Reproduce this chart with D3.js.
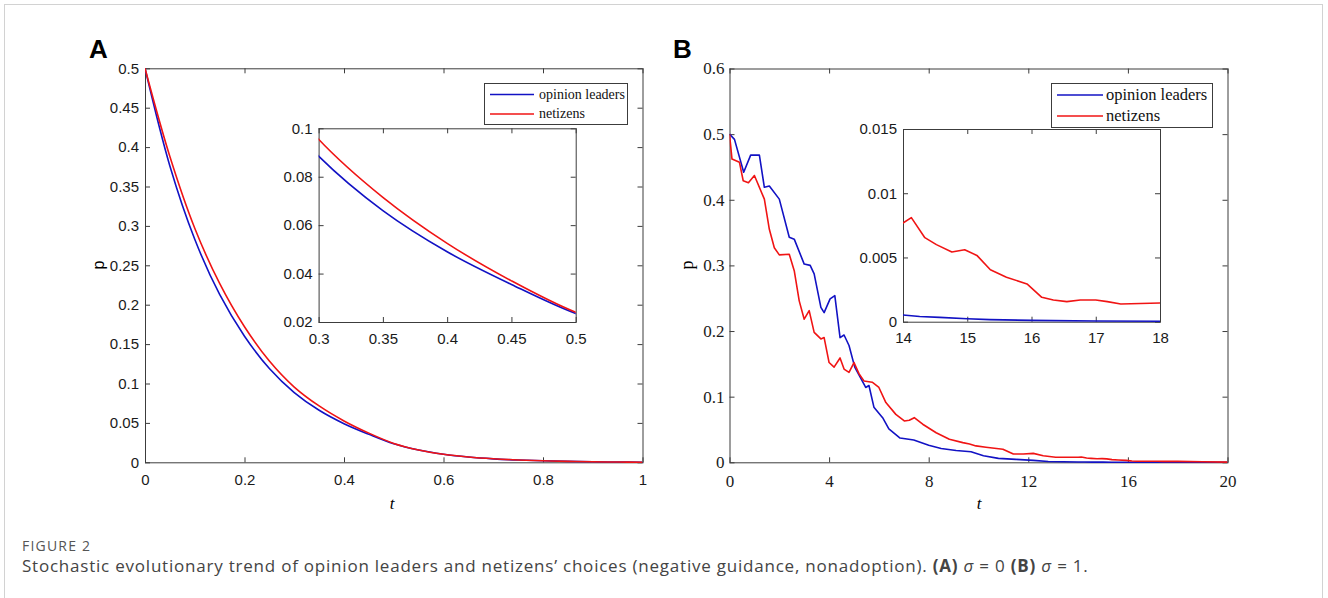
<!DOCTYPE html>
<html>
<head>
<meta charset="utf-8">
<script src="https://cdn.jsdelivr.net/npm/d3@7"></script>
<style>
  html, body { margin: 0; padding: 0; background: #ffffff; }
  svg { display: block; }
</style>
</head>
<body>
<svg id="chart"></svg>
<script>
//--Data
//Panel A (sigma = 0)
const tA = [0, 0.05, 0.1, 0.15, 0.2, 0.25, 0.3, 0.35, 0.4, 0.45, 0.5,
            0.55, 0.6, 0.65, 0.7, 0.75, 0.8, 0.85, 0.9, 0.95, 1];
const leadersA = [0.5, 0.376, 0.283, 0.213, 0.16, 0.119, 0.0885, 0.066, 0.049, 0.0355, 0.0235,
                  0.0155, 0.0102, 0.0067, 0.0044, 0.0029, 0.0019, 0.0012, 0.0007, 0.0003, 0];
const netizensA = [0.5, 0.388, 0.297, 0.227, 0.172, 0.1285, 0.0955, 0.0715, 0.0525, 0.037, 0.024,
                   0.0157, 0.0103, 0.0068, 0.0045, 0.003, 0.002, 0.0012, 0.0007, 0.0003, 0];

//Panel B (sigma = 1)
const tLeadersB = [0, 0.2, 0.57, 0.85, 1.2, 1.4, 1.6, 2.0, 2.4, 2.6, 3.0, 3.24, 3.4, 3.67, 3.8,
                   4.04, 4.23, 4.44, 4.6, 4.8, 5.03, 5.4, 5.47, 5.6, 5.8, 6.15, 6.4, 6.85, 7.4,
                   8.0, 8.5, 9.1, 9.7, 10.2, 10.8, 11.5, 12.2, 12.8, 14, 14.26, 14.57, 15.0,
                   15.35, 16, 17, 18, 20];
const pLeadersB = [0.5, 0.492, 0.442, 0.468, 0.468, 0.419, 0.421, 0.401, 0.343, 0.34, 0.302, 0.3,
                   0.287, 0.236, 0.228, 0.249, 0.254, 0.19, 0.194, 0.178, 0.145, 0.119, 0.114,
                   0.117, 0.084, 0.068, 0.051, 0.037, 0.034, 0.026, 0.021, 0.018, 0.016, 0.01,
                   0.006, 0.0045, 0.003, 0.0012, 0.00052, 0.0004, 0.00034, 0.00023, 0.00016,
                   0.0001, 0.00005, 0.00003, 0];
const tNetizensB = [0, 0.1, 0.4, 0.55, 0.76, 1.0, 1.4, 1.6, 1.8, 2.0, 2.4, 2.6, 2.8, 3.0, 3.2,
                    3.4, 3.67, 3.8, 4.0, 4.2, 4.44, 4.6, 4.8, 5.0, 5.2, 5.4, 5.73, 6.0, 6.28,
                    6.68, 7.02, 7.22, 7.42, 7.76, 8.3, 8.83, 9.37, 9.64, 9.9, 10.3, 10.98, 11.4,
                    11.8, 12.2, 12.6, 13.1, 13.9, 14, 14.13, 14.34, 14.52, 14.76, 14.96, 15.15,
                    15.36, 15.61, 15.93, 16.16, 16.34, 16.55, 16.76, 17.0, 17.18, 17.39, 18,
                    19, 20];
const pNetizensB = [0.5, 0.462, 0.457, 0.429, 0.426, 0.437, 0.401, 0.355, 0.327, 0.316, 0.317,
                    0.292, 0.246, 0.218, 0.231, 0.198, 0.188, 0.19, 0.152, 0.145, 0.159, 0.142,
                    0.137, 0.152, 0.135, 0.124, 0.122, 0.114, 0.091, 0.073, 0.063, 0.064, 0.068,
                    0.058, 0.045, 0.035, 0.03, 0.028, 0.025, 0.023, 0.02, 0.0126, 0.0126, 0.0136,
                    0.01, 0.0076, 0.0076, 0.00768, 0.0081, 0.00654, 0.006, 0.00542, 0.0056,
                    0.00516, 0.00404, 0.00346, 0.00294, 0.0019, 0.00169, 0.00156, 0.00169,
                    0.00169, 0.00156, 0.00138, 0.00146, 0.0008, 0.0003];

//Ticks
const xTicksA = [0, 0.2, 0.4, 0.6, 0.8, 1];
const yTicksA = [0, 0.05, 0.1, 0.15, 0.2, 0.25, 0.3, 0.35, 0.4, 0.45, 0.5];
const xTicksInsetA = [0.3, 0.35, 0.4, 0.45, 0.5];
const yTicksInsetA = [0.02, 0.04, 0.06, 0.08, 0.1];
const xTicksB = [0, 4, 8, 12, 16, 20];
const yTicksB = [0, 0.1, 0.2, 0.3, 0.4, 0.5, 0.6];
const xTicksInsetB = [14, 15, 16, 17, 18];
const yTicksInsetB = [0, 0.005, 0.01, 0.015];

const seriesNames = ["opinion leaders", "netizens"];

//--Shared info
var canvas = {
  width: 1328,
  height: 598,
  blue: "#1212c4",
  red: "#f01414",
  axis: "#3c3c3c",
  sans: "'Liberation Sans', Arial, sans-serif",
  serif: "'Liberation Serif', 'Times New Roman', serif"
};
const fmt = d => String(+d.toFixed(4));

let root = d3
  .select("svg")
  .attr("width", canvas.width)
  .attr("height", canvas.height)
  .style("background-color", "#FFFFFF");

//Outer frame of the figure
root
  .append("rect")
  .attr("x", 4.5)
  .attr("y", 4.5)
  .attr("width", 1318)
  .attr("height", 660)
  .attr("fill", "none")
  .attr("stroke", "#d2d2d2");

//--Helpers
function boxAxes(g, x, y, cfg) {
  const [x0, x1] = x.range();
  const [y0, y1] = y.range();
  g.append("rect")
    .attr("x", x0).attr("y", y1)
    .attr("width", x1 - x0).attr("height", y0 - y1)
    .attr("fill", "#FFFFFF");
  const axes = [
    [d3.axisBottom(x).tickValues(cfg.xTicks).tickFormat(fmt).tickPadding(cfg.xPad), `translate(0,${y0})`],
    [d3.axisTop(x).tickValues(cfg.xTicks).tickFormat(""), `translate(0,${y1})`],
    [d3.axisLeft(y).tickValues(cfg.yTicks).tickFormat(fmt).tickPadding(cfg.yPad), `translate(${x0},0)`],
    [d3.axisRight(y).tickValues(cfg.yTicks).tickFormat(""), `translate(${x1},0)`]
  ];
  axes.forEach(([ax, tr]) => {
    const a = g.append("g")
      .attr("transform", tr)
      .call(ax.tickSizeInner(-5).tickSizeOuter(0));
    a.select(".domain").remove();
    a.selectAll("line").attr("stroke", canvas.axis);
    a.selectAll("text")
      .attr("fill", "#1a1a1a")
      .style("font-family", cfg.font)
      .style("font-size", cfg.fontSize + "px");
  });
  g.append("rect")
    .attr("x", x0 + 0.5).attr("y", y1 + 0.5)
    .attr("width", x1 - x0).attr("height", y0 - y1)
    .attr("fill", "none")
    .attr("stroke", canvas.axis);
}

function drawLines(g, x, y, series, curve, clipId) {
  const [x0, x1] = x.range();
  const [y0, y1] = y.range();
  g.append("clipPath").attr("id", clipId)
    .append("rect")
    .attr("x", x0).attr("y", y1 - 2)
    .attr("width", x1 - x0).attr("height", y0 - y1 + 4);
  const line = d3.line().x(d => x(d[0])).y(d => y(d[1])).curve(curve);
  g.append("g")
    .attr("clip-path", `url(#${clipId})`)
    .selectAll("path")
    .data(series)
    .enter()
    .append("path")
    .attr("d", d => line(d.points))
    .attr("fill", "none")
    .attr("stroke", d => d.color)
    .attr("stroke-width", 1.6)
    .attr("stroke-linejoin", "round");
}

function legend(g, box, lineX, textX, rows, font, size) {
  g.append("rect")
    .attr("x", box[0] + 0.5).attr("y", box[1] + 0.5)
    .attr("width", box[2]).attr("height", box[3])
    .attr("fill", "#FFFFFF")
    .attr("stroke", canvas.axis);
  rows.forEach(r => {
    g.append("line")
      .attr("x1", lineX[0]).attr("x2", lineX[1])
      .attr("y1", r.y).attr("y2", r.y)
      .attr("stroke", r.color).attr("stroke-width", 1.6);
    g.append("text")
      .attr("x", textX).attr("y", r.y)
      .attr("dy", "0.32em")
      .style("font-family", font)
      .style("font-size", size + "px")
      .attr("fill", "#111")
      .text(r.name);
  });
}

//--Panel A
let panelA = root.append("g").classed("panel-a", true);
let xA = d3.scaleLinear().domain([0, 1]).range([145, 642.5]);
let yA = d3.scaleLinear().domain([0, 0.5]).range([462.3, 68.3]);
let seriesA = [
  { color: canvas.blue, points: tA.map((t, i) => [t, leadersA[i]]) },
  { color: canvas.red, points: tA.map((t, i) => [t, netizensA[i]]) }
];
boxAxes(panelA, xA, yA, { xTicks: xTicksA, yTicks: yTicksA, xPad: 12, yPad: 6, font: canvas.sans, fontSize: 15 });
drawLines(panelA, xA, yA, seriesA, d3.curveCatmullRom.alpha(0.5), "clipA");

let xAi = d3.scaleLinear().domain([0.3, 0.5]).range([318.6, 575.7]);
let yAi = d3.scaleLinear().domain([0.02, 0.1]).range([322, 128.3]);
let insetA = panelA.append("g").classed("inset-a", true);
boxAxes(insetA, xAi, yAi, { xTicks: xTicksInsetA, yTicks: yTicksInsetA, xPad: 11, yPad: 6, font: canvas.sans, fontSize: 15 });
drawLines(insetA, xAi, yAi, seriesA, d3.curveCatmullRom.alpha(0.5), "clipAi");

legend(panelA, [484, 83, 143, 41], [490, 534], 539,
  [{ name: seriesNames[0], color: canvas.blue, y: 94.5 },
   { name: seriesNames[1], color: canvas.red, y: 114 }], canvas.serif, 14);

panelA.append("text")
  .attr("x", 89).attr("y", 58)
  .style("font-family", canvas.sans)
  .style("font-weight", "bold")
  .style("font-size", "26px")
  .text("A");
panelA.append("text")
  .attr("transform", "translate(104,265) rotate(-90)")
  .attr("text-anchor", "middle")
  .style("font-family", canvas.sans)
  .style("font-size", "16px")
  .text("p");
panelA.append("text")
  .attr("x", 392).attr("y", 509)
  .attr("text-anchor", "middle")
  .style("font-family", canvas.serif)
  .style("font-style", "italic")
  .style("font-size", "17px")
  .text("t");

//--Panel B
let panelB = root.append("g").classed("panel-b", true);
let xB = d3.scaleLinear().domain([0, 20]).range([729.5, 1227.5]);
let yB = d3.scaleLinear().domain([0, 0.6]).range([462.3, 68.5]);
let seriesB = [
  { color: canvas.blue, points: tLeadersB.map((t, i) => [t, pLeadersB[i]]) },
  { color: canvas.red, points: tNetizensB.map((t, i) => [t, pNetizensB[i]]) }
];
boxAxes(panelB, xB, yB, { xTicks: xTicksB, yTicks: yTicksB, xPad: 13, yPad: 5, font: canvas.serif, fontSize: 17 });
drawLines(panelB, xB, yB, seriesB, d3.curveLinear, "clipB");

let xBi = d3.scaleLinear().domain([14, 18]).range([903, 1160]);
let yBi = d3.scaleLinear().domain([0, 0.015]).range([321.7, 129]);
let insetB = panelB.append("g").classed("inset-b", true);
boxAxes(insetB, xBi, yBi, { xTicks: xTicksInsetB, yTicks: yTicksInsetB, xPad: 11, yPad: 6, font: canvas.sans, fontSize: 15 });
drawLines(insetB, xBi, yBi, seriesB, d3.curveLinear, "clipBi");

legend(panelB, [1051, 83, 161, 44], [1057, 1103], 1106,
  [{ name: seriesNames[0], color: canvas.blue, y: 95 },
   { name: seriesNames[1], color: canvas.red, y: 116 }], canvas.serif, 16.5);

panelB.append("text")
  .attr("x", 673).attr("y", 58)
  .style("font-family", canvas.sans)
  .style("font-weight", "bold")
  .style("font-size", "26px")
  .text("B");
panelB.append("text")
  .attr("transform", "translate(693,265) rotate(-90)")
  .attr("text-anchor", "middle")
  .style("font-family", canvas.serif)
  .style("font-size", "18px")
  .text("p");
panelB.append("text")
  .attr("x", 979).attr("y", 509)
  .attr("text-anchor", "middle")
  .style("font-family", canvas.serif)
  .style("font-style", "italic")
  .style("font-size", "17px")
  .text("t");

//--Caption
root.append("text")
  .attr("x", 22).attr("y", 551)
  .style("font-family", "'Open Sans', 'Noto Sans', sans-serif")
  .style("font-size", "14px")
  .style("letter-spacing", "1.2px")
  .attr("fill", "#555")
  .text("FIGURE 2");
let caption = root.append("text")
  .attr("x", 22).attr("y", 572)
  .style("font-family", "'Open Sans', 'Noto Sans', sans-serif")
  .style("font-size", "17px")
  .style("letter-spacing", "0.78px")
  .attr("fill", "#444");
[
  ["Stochastic evolutionary trend of opinion leaders and netizens\u2019 choices (negative guidance, nonadoption). ", "normal", "normal"],
  ["(A)", "bold", "normal"], [" ", "normal", "normal"], ["\u03c3", "normal", "italic"], [" = 0 ", "normal", "normal"],
  ["(B)", "bold", "normal"], [" ", "normal", "normal"], ["\u03c3", "normal", "italic"], [" = 1.", "normal", "normal"]
].forEach(([s, w, st]) => {
  caption.append("tspan")
    .style("font-weight", w)
    .style("font-style", st)
    .text(s);
});
</script>
</body>
</html>
